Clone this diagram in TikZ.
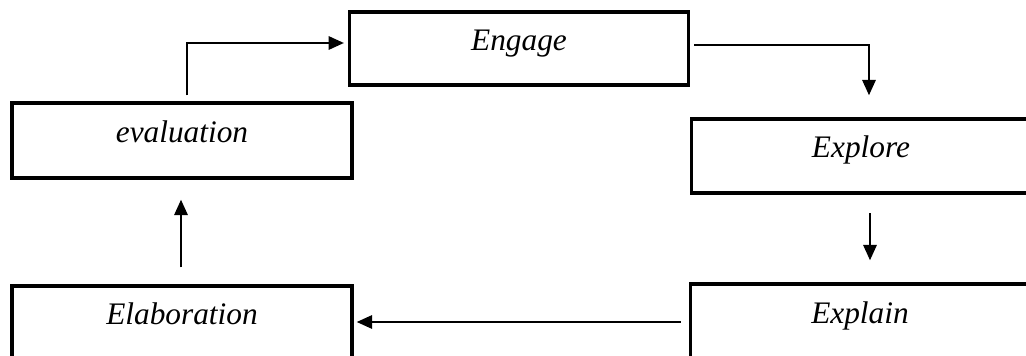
\documentclass[tikz,border=0pt]{standalone}
\usepackage{fontspec}
\setmainfont{Liberation Serif}
\usetikzlibrary{arrows.meta}
\begin{document}
\begin{tikzpicture}[x=0.75pt,y=-0.75pt,
  stagebox/.style={draw=black, line width=2.6pt, minimum width=254pt, minimum height=55.5pt,
    inner sep=0pt, font=\fontsize{23.5}{28}\selectfont\itshape,
    text height=0.45em, text depth=0.19em},
  arr/.style={line width=1.6pt, -{Triangle[length=11.5pt,width=10pt]}}]
\useasboundingbox (0,0) rectangle (1026,356);
\clip (0,0) rectangle (1026,356);
\node[stagebox, minimum height=54.75pt] (engage) at (519,48.5) {Engage};
\node[stagebox, minimum width=255pt, minimum height=56.25pt] (evaluation) at (182,140.5) {evaluation};
\node[stagebox] (explore) at (861,156) {Explore};
\node[stagebox, minimum height=56.25pt] (explain) at (860,321.5) {Explain};
\node[stagebox, minimum width=255pt] (elaboration) at (182,323) {Elaboration};
\coordinate (c1) at (187,43);
\coordinate (c2) at (869,45);
\coordinate (c3) at (870,0);
\coordinate (c4) at (0,322);
\coordinate (c5) at (181,0);
\draw[arr, shorten <=4.5pt, shorten >=3pt] (evaluation.north -| c1) |- (engage.west |- c1);
\draw[arr, shorten <=3pt, shorten >=16.5pt] (engage.east |- c2) -| (explore.north -| c2);
\draw[arr, shorten <=14pt, shorten >=16.5pt] (explore.south -| c3) -- (explain.north -| c3);
\draw[arr, shorten <=6pt, shorten >=2.25pt] (explain.west |- c4) -- (elaboration.east |- c4);
\draw[arr, shorten <=12.75pt, shorten >=15pt] (elaboration.north -| c5) -- (evaluation.south -| c5);
\end{tikzpicture}
\end{document}
